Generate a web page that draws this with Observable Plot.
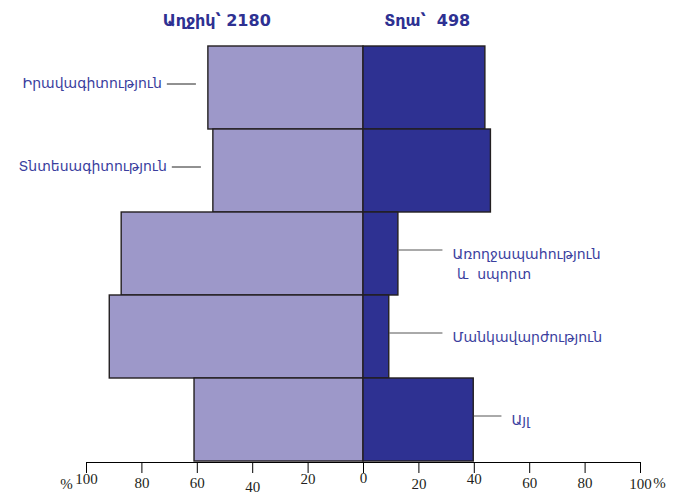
<!DOCTYPE html>
<html>
<head>
<meta charset="utf-8">
<script src="https://cdn.jsdelivr.net/npm/d3@7"></script>
<script src="https://cdn.jsdelivr.net/npm/@observablehq/plot@0.6"></script>
<style>
  html, body { margin: 0; padding: 0; background: #fff; }
  #chart svg { display: block; }
</style>
</head>
<body>
<div id="chart"></div>
<script>
// ---- data ----
const categories = ["Իրավագիտություն", "Տնտեսագիտություն", "Առողջապահություն\n և  սպորտ", "Մանկավարժություն", "Այլ"];
const girls = [56.0, 54.2, 87.3, 91.6, 61.0];
const boys = [44.0, 46.0, 12.6, 9.3, 39.8];
const labelSide = ["left", "left", "right", "right", "right"];
const titles = ["Աղջիկ՝ 2180", "Տղա՝  498"];
const tickValues = [-100, -80, -60, -40, -20, 0, 20, 40, 60, 80, 100];

// ---- styling / layout ----
const girlColor = "#9d98c9";
const boyColor = "#2e3192";
const textColor = "#3a3e9e";
const tickLabelShift = [21, 25, 25, 29, 21, 20, 26, 21, 25, 25, 26];

const rows = categories.map((c, i) => ({cat: c, girls: girls[i], boys: boys[i], side: labelSide[i]}));
const leftRows = rows.filter(d => d.side === "left");
const rightRows = rows.filter(d => d.side === "right");

const ticks = tickValues.map((v, i) => ({v, shift: tickLabelShift[i]}));
const shiftGroups = d3.groups(ticks, d => d.shift);

const sans = "DejaVu Sans, sans-serif";
const serif = "Liberation Serif, Times New Roman, serif";

const chart = Plot.plot({
  width: 688,
  height: 497,
  marginTop: 45,
  marginBottom: 35,
  marginLeft: 86,
  marginRight: 48,
  style: {background: "#fff", overflow: "visible"},
  x: {domain: [-100, 100], axis: "bottom", ticks: tickValues, tickSize: 11, tickFormat: () => "", line: true, label: null},
  y: {domain: categories, padding: 0, axis: null},
  marks: [
    Plot.barX(rows, {y: "cat", x1: 0, x2: d => -d.girls, fill: girlColor, stroke: "#231f20", strokeWidth: 1.4, inset: 0}),
    Plot.barX(rows, {y: "cat", x1: 0, x2: d => d.boys, fill: boyColor, stroke: "#231f20", strokeWidth: 1.4, inset: 0}),
    // leaders
    Plot.link(leftRows, {y1: "cat", y2: "cat", x1: d => -(d.girls + 4.5), x2: d => -(d.girls + 15), stroke: "#222", strokeWidth: 1, dy: -4}),
    Plot.link(rightRows, {y1: "cat", y2: "cat", x1: d => d.boys, x2: d => Math.max(d.boys + 10, 28.5), stroke: "#555", strokeWidth: 1, dy: -4}),
    // category labels
    Plot.text(leftRows, {y: "cat", x: d => -(d.girls + 15), text: "cat", textAnchor: "end", dx: -5, dy: -4, fill: textColor, fontSize: 14, fontFamily: sans}),
    Plot.text(rightRows, {y: "cat", x: d => Math.max(d.boys + 10, 28.5), text: "cat", textAnchor: "start", dx: 10, dy: -9, lineHeight: 1.4, fill: textColor, fontSize: 14, fontFamily: sans, lineAnchor: "top"}),
    // titles
    Plot.text([{t: titles[0], x: -53}, {t: titles[1], x: 23}], {x: "x", text: "t", frameAnchor: "top", dy: -31, fill: boyColor, fontSize: 16, fontWeight: "bold", fontFamily: sans}),
    // tick labels
    ...shiftGroups.map(([shift, g]) => Plot.text(g, {x: "v", text: d => String(Math.abs(d.v)), frameAnchor: "bottom", dy: shift, fill: "#231f20", fontSize: 15, fontFamily: serif})),
    Plot.text([-100], {x: d => d, text: ["%"], frameAnchor: "bottom", dx: -20, dy: 26, fill: "#231f20", fontSize: 15, fontFamily: serif}),
    Plot.text([100], {x: d => d, text: ["%"], frameAnchor: "bottom", dx: 19, dy: 25, fill: "#231f20", fontSize: 15, fontFamily: serif})
  ]
});
document.getElementById("chart").appendChild(chart);
</script>
</body>
</html>
